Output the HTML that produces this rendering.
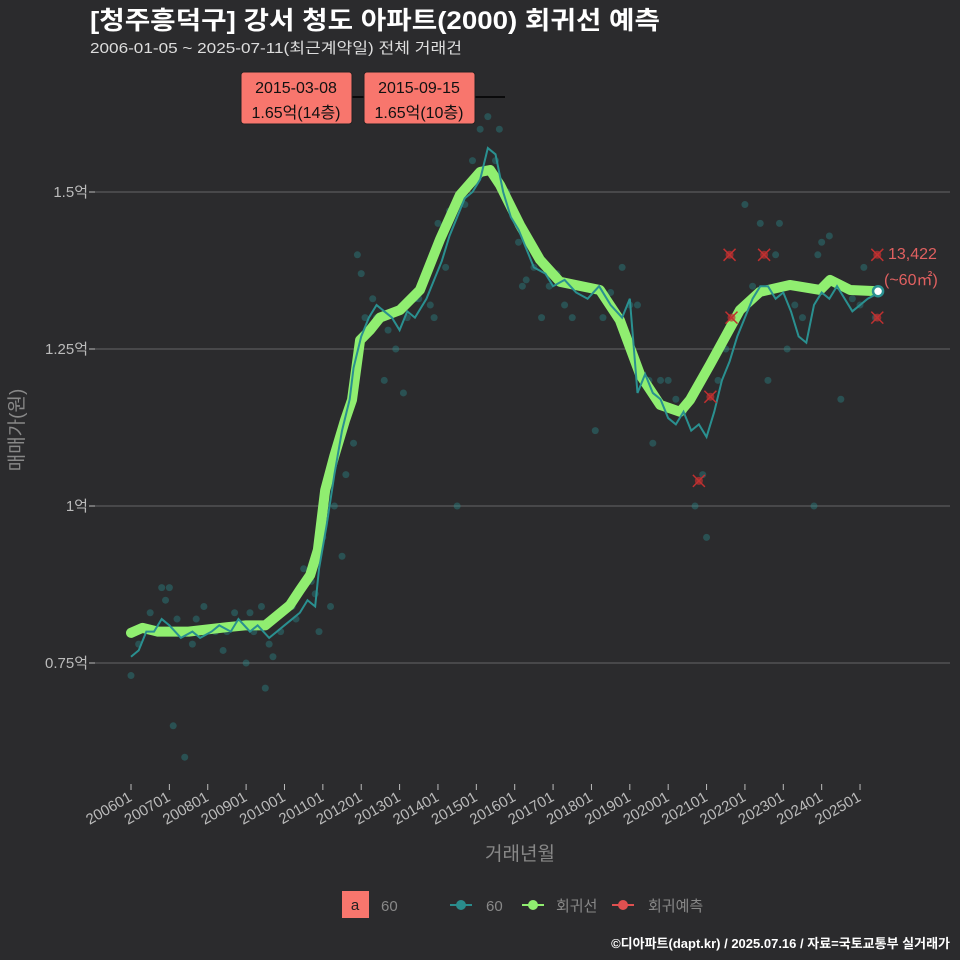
<!DOCTYPE html>
<html><head><meta charset="utf-8">
<style>
body{margin:0;background:#2b2b2d;}
svg{display:block;font-family:"Liberation Sans","Noto Sans CJK KR",sans-serif;}
</style></head>
<body>
<svg id="chart" width="960" height="960" viewBox="0 0 960 960">
<rect width="960" height="960" fill="#2b2b2d"/>
<text x="90" y="29" fill="#fff" font-size="25" font-weight="bold" textLength="570" lengthAdjust="spacingAndGlyphs">[청주흥덕구] 강서 청도 아파트(2000) 회귀선 예측</text>
<text x="90" y="53" fill="#ddd" font-size="15" textLength="372" lengthAdjust="spacingAndGlyphs">2006-01-05 ~ 2025-07-11(최근계약일) 전체 거래건</text>
<g id="grid"></g><g id="marks"></g><g id="axes"></g>
<text transform="translate(23,430) rotate(-90)" text-anchor="middle" fill="#888" font-size="19">매매가(원)</text>
<text x="520" y="860" text-anchor="middle" fill="#888" font-size="19">거래년월</text>
<g>
<rect x="342" y="891" width="27" height="27" fill="#f8766d"/>
<text x="355" y="910" text-anchor="middle" font-size="15" fill="#222">a</text>
<text x="381" y="911" font-size="15" fill="#888">60</text>
<g><line x1="450" y1="905" x2="472" y2="905" stroke="#2a8c8c" stroke-width="2"/><circle cx="461" cy="905" r="5" fill="#2a8c8c"/><text x="486" y="911" font-size="15" fill="#888">60</text></g>
<g><line x1="522" y1="905" x2="544" y2="905" stroke="#90ee70" stroke-width="2"/><circle cx="533" cy="905" r="5" fill="#90ee70"/><text x="556" y="911" font-size="15" fill="#888">회귀선</text></g>
<g><line x1="612" y1="905" x2="634" y2="905" stroke="#e05050" stroke-width="2"/><circle cx="623" cy="905" r="5" fill="#e05050"/><text x="648" y="911" font-size="15" fill="#888">회귀예측</text></g>
</g>
<text x="950" y="948" text-anchor="end" font-size="13" font-weight="bold" fill="#fff">©디아파트(dapt.kr) / 2025.07.16 / 자료=국토교통부 실거래가</text>
</svg>
<script>
const yTicks=[0.75,1,1.25,1.5];
const yTickLabels=["0.75억","1억","1.25억","1.5억"];
const xTickYears=[2006,2007,2008,2009,2010,2011,2012,2013,2014,2015,2016,2017,2018,2019,2020,2021,2022,2023,2024,2025];
const xTickLabels=["200601","200701","200801","200901","201001","201101","201201","201301","201401","201501","201601","201701","201801","201901","202001","202101","202201","202301","202401","202501"];
const regYears=[2006.0,2006.3,2006.7,2007.5,2008.5,2009.0,2009.5,2010.14,2010.4,2010.67,2010.87,2011.06,2011.3,2011.58,2011.76,2011.97,2012.23,2012.49,2013.01,2013.53,2014.05,2014.57,2015.1,2015.36,2015.62,2016.14,2016.66,2017.18,2018.22,2018.74,2019.27,2019.79,2020.31,2020.57,2021.09,2021.87,2022.39,2023.17,2023.96,2024.22,2024.74,2025.47];
const regValues=[0.798,0.806,0.8,0.8,0.807,0.81,0.81,0.842,0.866,0.89,0.93,1.025,1.08,1.137,1.169,1.264,1.28,1.3,1.312,1.344,1.424,1.495,1.532,1.535,1.511,1.447,1.392,1.357,1.344,1.296,1.209,1.161,1.15,1.169,1.225,1.312,1.341,1.352,1.344,1.36,1.344,1.342];
const avgYears=[2006.0,2006.2,2006.4,2006.6,2006.8,2007.0,2007.3,2007.6,2007.8,2008.1,2008.3,2008.6,2008.8,2009.1,2009.3,2009.6,2009.8,2010.0,2010.2,2010.4,2010.6,2010.8,2010.9,2011.1,2011.3,2011.5,2011.7,2011.8,2012.0,2012.2,2012.4,2012.6,2012.8,2013.0,2013.2,2013.4,2013.7,2013.9,2014.1,2014.3,2014.5,2014.7,2014.9,2015.1,2015.3,2015.5,2015.7,2015.9,2016.1,2016.3,2016.5,2016.8,2017.0,2017.3,2017.6,2017.9,2018.2,2018.5,2018.8,2019.0,2019.2,2019.4,2019.6,2019.8,2020.0,2020.2,2020.4,2020.6,2020.8,2021.0,2021.2,2021.4,2021.6,2021.8,2022.0,2022.2,2022.4,2022.6,2022.8,2023.0,2023.2,2023.4,2023.6,2023.8,2024.0,2024.2,2024.4,2024.6,2024.8,2025.0,2025.2,2025.5];
const avgValues=[0.76,0.77,0.8,0.8,0.82,0.81,0.79,0.8,0.79,0.8,0.81,0.8,0.82,0.8,0.81,0.79,0.8,0.81,0.82,0.83,0.85,0.84,0.9,0.97,1.05,1.12,1.17,1.22,1.27,1.3,1.32,1.31,1.3,1.28,1.31,1.3,1.33,1.36,1.39,1.43,1.46,1.49,1.5,1.52,1.57,1.56,1.5,1.46,1.44,1.41,1.38,1.37,1.35,1.36,1.34,1.33,1.35,1.32,1.3,1.33,1.18,1.21,1.18,1.17,1.14,1.13,1.15,1.12,1.13,1.11,1.15,1.2,1.23,1.27,1.3,1.33,1.35,1.35,1.33,1.34,1.31,1.27,1.26,1.32,1.34,1.33,1.35,1.33,1.31,1.32,1.33,1.34];
const ptYears=[2006.0,2006.2,2006.5,2006.8,2007.0,2007.2,2007.4,2007.6,2007.9,2008.2,2008.4,2008.7,2009.0,2009.2,2009.4,2009.6,2009.9,2010.2,2010.5,2010.8,2011.0,2011.3,2011.6,2011.9,2012.1,2012.3,2012.6,2012.9,2013.2,2013.5,2013.8,2014.0,2014.3,2014.6,2014.9,2015.1,2015.3,2015.5,2015.8,2016.1,2016.5,2016.9,2017.3,2017.8,2018.3,2018.8,2019.2,2019.6,2020.0,2020.4,2020.7,2021.0,2021.3,2021.7,2022.0,2022.4,2022.8,2023.1,2023.5,2023.9,2024.2,2024.6,2025.0,2025.3,2007.1,2007.4,2009.5,2010.9,2012.0,2013.1,2014.5,2016.2,2018.1,2019.5,2020.9,2022.6,2023.8,2024.5,2006.9,2007.7,2008.5,2009.1,2009.7,2010.3,2010.7,2011.2,2011.5,2011.8,2012.4,2012.7,2013.4,2013.9,2014.2,2014.7,2015.0,2015.6,2016.3,2016.7,2017.1,2017.5,2018.5,2019.0,2019.8,2020.2,2021.5,2022.2,2022.9,2023.3,2024.0,2024.8,2025.1,2025.4];
const ptValues=[0.73,0.78,0.83,0.87,0.87,0.82,0.8,0.78,0.84,0.8,0.77,0.83,0.75,0.8,0.84,0.78,0.8,0.84,0.9,0.86,0.95,1.0,1.05,1.4,1.3,1.33,1.2,1.25,1.3,1.33,1.32,1.45,1.47,1.5,1.55,1.6,1.62,1.55,1.5,1.42,1.38,1.35,1.32,1.35,1.3,1.38,1.32,1.1,1.2,1.15,1.0,0.95,1.2,1.3,1.48,1.45,1.4,1.25,1.3,1.4,1.43,1.35,1.32,1.34,0.65,0.6,0.71,0.8,1.37,1.18,1.0,1.35,1.12,1.2,1.05,1.2,1.0,1.17,0.85,0.82,0.8,0.83,0.76,0.82,0.88,0.84,0.92,1.1,1.3,1.28,1.33,1.3,1.38,1.48,1.52,1.6,1.36,1.3,1.37,1.3,1.34,1.32,1.2,1.17,1.25,1.35,1.45,1.32,1.42,1.33,1.38,1.3];
const predYears=[2020.8,2021.1,2021.6,2021.65,2022.5,2025.45,2025.45];
const predValues=[1.04,1.174,1.40,1.30,1.40,1.40,1.30];
const NS="http://www.w3.org/2000/svg";
const X=y=>131+(y-2006)*38.37;
const Y=v=>506-(v-1)*628;
function mk(tag,attrs,parent){const e=document.createElementNS(NS,tag);for(const k in attrs)e.setAttribute(k,attrs[k]);document.getElementById(parent).appendChild(e);return e;}
yTicks.forEach((t,i)=>{
 const l=mk('line',{x1:95,x2:950,y1:Y(t),y2:Y(t),stroke:'#666','stroke-width':1},'grid');
 
 
 const tx=mk('text',{x:88,y:Y(t)+5,'text-anchor':'end','font-size':15,fill:'#bbb'},'axes');tx.textContent=yTickLabels[i];
 
 
 mk('line',{x1:89,x2:95,y1:Y(t),y2:Y(t),stroke:'#bbb'},'axes');
});
xTickYears.forEach((yr,i)=>{
 const x=X(yr);
 mk('line',{x1:x,x2:x,y1:784,y2:790,stroke:'#bbb'},'axes');
 const tx=mk('text',{x:x+2,y:800,'text-anchor':'end','font-size':15,fill:'#bbb',transform:`rotate(-30 ${x+2} 800)`},'axes');tx.textContent=xTickLabels[i];
 
 
});
ptYears.forEach((yr,i)=>{
 const c=mk('circle',{cx:X(yr),cy:Y(ptValues[i]),r:3.5,fill:'#2a8c8c','fill-opacity':0.4},'marks');
 
 
});
const reg=mk('polyline',{points:regYears.map((y,i)=>X(y)+','+Y(regValues[i])).join(' '),fill:'none',stroke:'#90ee70','stroke-width':10,'stroke-linejoin':'round','stroke-linecap':'round'},'marks');


const avg=mk('polyline',{points:avgYears.map((y,i)=>X(y)+','+Y(avgValues[i])).join(' '),fill:'none',stroke:'#2a9090','stroke-width':2},'marks');


predYears.forEach((yr,i)=>{
 const x=X(yr),y=Y(predValues[i]);
 const g=mk('g',{},'marks');
 
 
 g.innerHTML=`<circle cx="${x}" cy="${y}" r="4" fill="#c03030" fill-opacity="0.7"/><path d="M${x-6} ${y-6}L${x+6} ${y+6}M${x-6} ${y+6}L${x+6} ${y-6}" stroke="#c03030" stroke-width="1.5"/>`;
});
const endX=X(2025.47),endY=Y(1.342);
const ep=mk('circle',{cx:endX,cy:endY,r:5,fill:'#fff',stroke:'#2a9090','stroke-width':2.5},'marks');


const t1=mk('text',{x:888,y:259,'font-size':16,fill:'#e06060'},'marks');t1.textContent='13,422';


const t2=mk('text',{x:884,y:285,'font-size':16,fill:'#e06060'},'marks');t2.textContent='(~60㎡)';


mk('line',{x1:350,x2:505,y1:97,y2:97,stroke:'#000','stroke-width':1.5},'marks');
[[241,'2015-03-08','1.65억(14층)','max-label-1'],[364,'2015-09-15','1.65억(10층)','max-label-2']].forEach(a=>{
 const g=mk('g',{},'marks');
 
 
 g.innerHTML=`<rect x="${a[0]}" y="72" width="111" height="52" rx="3" fill="#f8766d" stroke="#222"/><text x="${a[0]+55}" y="93" text-anchor="middle" font-size="16" fill="#111">${a[1]}</text><text x="${a[0]+55}" y="118" text-anchor="middle" font-size="16" fill="#111">${a[2]}</text>`;
});
</script>
</body></html>
